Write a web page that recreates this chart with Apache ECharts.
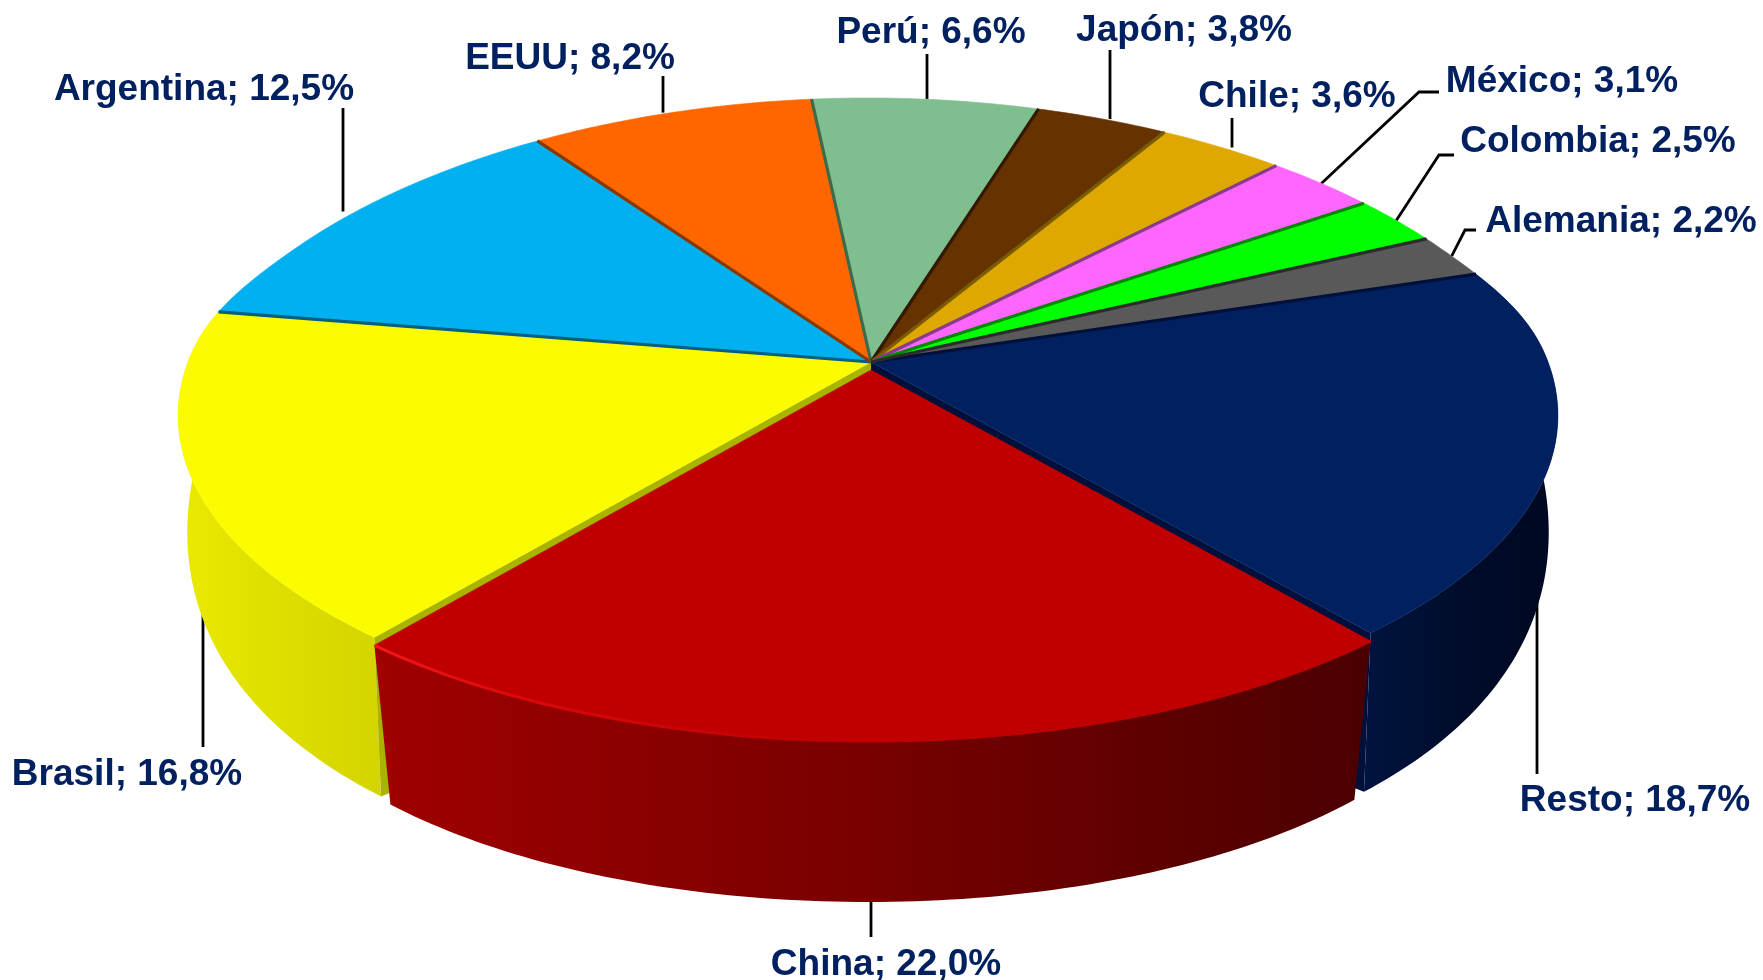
<!DOCTYPE html>
<html>
<head>
<meta charset="utf-8">
<style>html,body{margin:0;padding:0;background:#fff}#c{width:1763px;height:980px}</style>
<script src="https://cdn.jsdelivr.net/npm/echarts@6/dist/echarts.min.js"></script>
</head>
<body>
<div id="c"></div>
<script>
// Data, clockwise from the first slice
var categories = ['Resto','China','Brasil','Argentina','EEUU','Perú','Japón','Chile','México','Colombia','Alemania'];
var shares = [18.7,22.0,16.8,12.5,8.2,6.6,3.8,3.6,3.1,2.5,2.2];

// Styles
var topColors = ['#002060','#C00000','#FCFC00','#00B0F0','#FF6600','#7FBF8F','#663300','#DFA800','#FF66FF','#00FF00','#595959'];
var sideColors = ['#00103A','#800000','#A8B400','#00607F','#8A3800','#3F6A4A','#331900','#7A5C00','#8A3A8A','#008800','#2C2C2C'];
var wallStops = [
  ['#001440','#000C2A','#000822'],
  ['#A00000','#780000','#4A0000'],
  ['#EAEA00','#DEDE00','#D4D400']
];
var rimLight = ['#F01818','#DC0808','#C00000'];
var textColor = '#002060';

// Projection of the pie (pixels)
var FIRST_ANGLE = 72.6, KX_FRONT = 0.1685, KX_BACK = 0.235, APEX_DX = 3, EXPLODED = 1, EXPLODE_DY = 8;
var TOP = {cx: 868, cy: 362, rx: 680, ry: 308.5, ky: 0.1685};
var BOTTOM = {cx: 868, cy: 459, rx: 671, ry: 435, ky: 0};
var BOTTOM_EXPLODED = {cx: 868, cy: 459, rx: 658, ry: 435, ky: 0};

// Label layout: centre of the text, and leader path after the slice anchor
var labelCentres = [[1635,801],[886,965],[127,775],[204,90],[570,59],[931,33],[1184,31],[1297,97],[1562,82],[1598,142],[1621,222]];
var leaderPaths = [[[1537,774]],[[871,937]],[[203,747]],[[343,108]],[[663,76]],[[927,54]],[[1110,50]],[[1232,118]],[[1419,92],[1439,92]],[[1439,155],[1454,155]],[[1465,230],[1476,230]]];
var wallAnchored = [true,true,true,false,false,false,false,false,false,false,false];

var total = shares.reduce(function(a,b){return a+b;},0);
function angleAt(cum){ return (FIRST_ANGLE + cum/total*360) * Math.PI/180; }
function kxAt(v){
  var t = Math.min(1, Math.max(0, -v/0.4));
  t = t*t*(3-2*t);
  return KX_FRONT + (KX_BACK-KX_FRONT)*t;
}
function project(plane, a, dy){
  var u = Math.sin(a), v = -Math.cos(a);
  var fx = 1/(1-kxAt(v)*v), fy = 1/(1-plane.ky*v);
  return [plane.cx + plane.rx*u*fx, plane.cy + plane.ry*v*fy + (dy||0)];
}
function arc(plane, a0, a1, dy){
  var n = Math.max(6, Math.ceil(Math.abs(a1-a0)/0.015)), pts = [];
  for (var i=0;i<=n;i++) pts.push(project(plane,a0+(a1-a0)*i/n,dy));
  return pts;
}
function renderSlice(params, api){
  var i = params.dataIndex, cum = 0;
  for (var k=0;k<i;k++) cum += shares[k];
  var value = api.value(0);
  var a0 = angleAt(cum), a1 = angleAt(cum+value), mid = (a0+a1)/2;
  var isEx = i===EXPLODED;
  var dy = isEx ? EXPLODE_DY : 0;
  var base = isEx ? 100 : 10;
  var lower = isEx ? BOTTOM_EXPLODED : BOTTOM;
  var topArc = arc(TOP,a0,a1,dy);
  var apexT = [TOP.cx+APEX_DX, TOP.cy+dy], apexB = [lower.cx+APEX_DX, lower.cy+dy+140];
  var kids = [];
  function face(a){
    var pts=[apexT,project(TOP,a,dy),project(lower,a,dy),apexB];
    kids.push({type:'polygon',z2:base+3,shape:{points:pts},style:{fill:sideColors[i]},silent:true});
  }
  // the two faces laid open by the exploded slice
  if (i===EXPLODED-1) face(a1);
  if (i===EXPLODED+1) face(a0);
  // outer wall, only for the slices that face the viewer
  if (wallStops[i]) {
    var botArc = arc(lower,a0,a1,dy);
    var wall = topArc.concat(botArc.slice().reverse());
    var xs = wall.map(function(p){return p[0];});
    var x0 = Math.min.apply(null,xs), x1 = Math.max.apply(null,xs);
    var st = wallStops[i];
    kids.push({type:'polygon',z2:base+2,shape:{points:wall},style:{
      fill:new echarts.graphic.LinearGradient(x0,0,x1,0,[{offset:0,color:st[0]},{offset:.5,color:st[1]},{offset:1,color:st[2]}],true)
    },silent:true});
  }
  // top face
  kids.push({type:'polygon',z2:base+20,shape:{points:[apexT].concat(topArc)},style:{fill:topColors[i],stroke:topColors[i],lineWidth:.6},silent:true});
  // thin dark seam on the slice's starting edge
  if (i!==EXPLODED && i!==EXPLODED+1) {
    kids.push({type:'polyline',z2:base+30,shape:{points:[apexT,project(TOP,a0,dy)]},style:{stroke:sideColors[i],lineWidth:3.2,fill:null},silent:true});
  }
  // lit front rim of the exploded slice
  if (isEx) {
    var xa = topArc.map(function(p){return p[0];});
    kids.push({type:'polyline',z2:base+31,shape:{points:topArc},style:{fill:null,lineWidth:3,
      stroke:new echarts.graphic.LinearGradient(Math.min.apply(null,xa),0,Math.max.apply(null,xa),0,
        [{offset:0,color:rimLight[0]},{offset:.15,color:rimLight[1]},{offset:.45,color:rimLight[2]},{offset:1,color:rimLight[2]}],true)},silent:true});
  }
  // leader line, behind the pie when anchored on a wall
  var anchor = project(TOP,mid,dy);
  if (wallAnchored[i]) {
    var b = project(lower,mid,dy);
    anchor = [(anchor[0]+b[0])/2,(anchor[1]+b[1])/2];
  }
  var path = leaderPaths[i];
  var start = [path.length===1 ? path[0][0] : anchor[0], anchor[1]];
  kids.push({type:'polyline',z2:1,shape:{points:[start].concat(path)},style:{stroke:'#000',lineWidth:2.8,fill:null},silent:true});
  // label text
  kids.push({type:'text',z2:300,style:{
    text:categories[i]+'; '+value.toFixed(1).replace('.',',')+'%',
    x:labelCentres[i][0],y:labelCentres[i][1],align:'center',verticalAlign:'middle',
    fill:textColor,font:'bold 37px "Liberation Sans", Arial, sans-serif'
  },silent:true});
  return {type:'group',children:kids};
}

var chart = echarts.init(document.getElementById('c'),null,{renderer:'canvas',width:1763,height:980});
chart.setOption({
  animation:false,
  backgroundColor:'#fff',
  series:[{
    type:'custom',
    coordinateSystem:'none',
    renderItem:renderSlice,
    data:shares.map(function(v,i){return {name:categories[i],value:[v]};}),
    silent:true
  }]
});
</script>
</body>
</html>
